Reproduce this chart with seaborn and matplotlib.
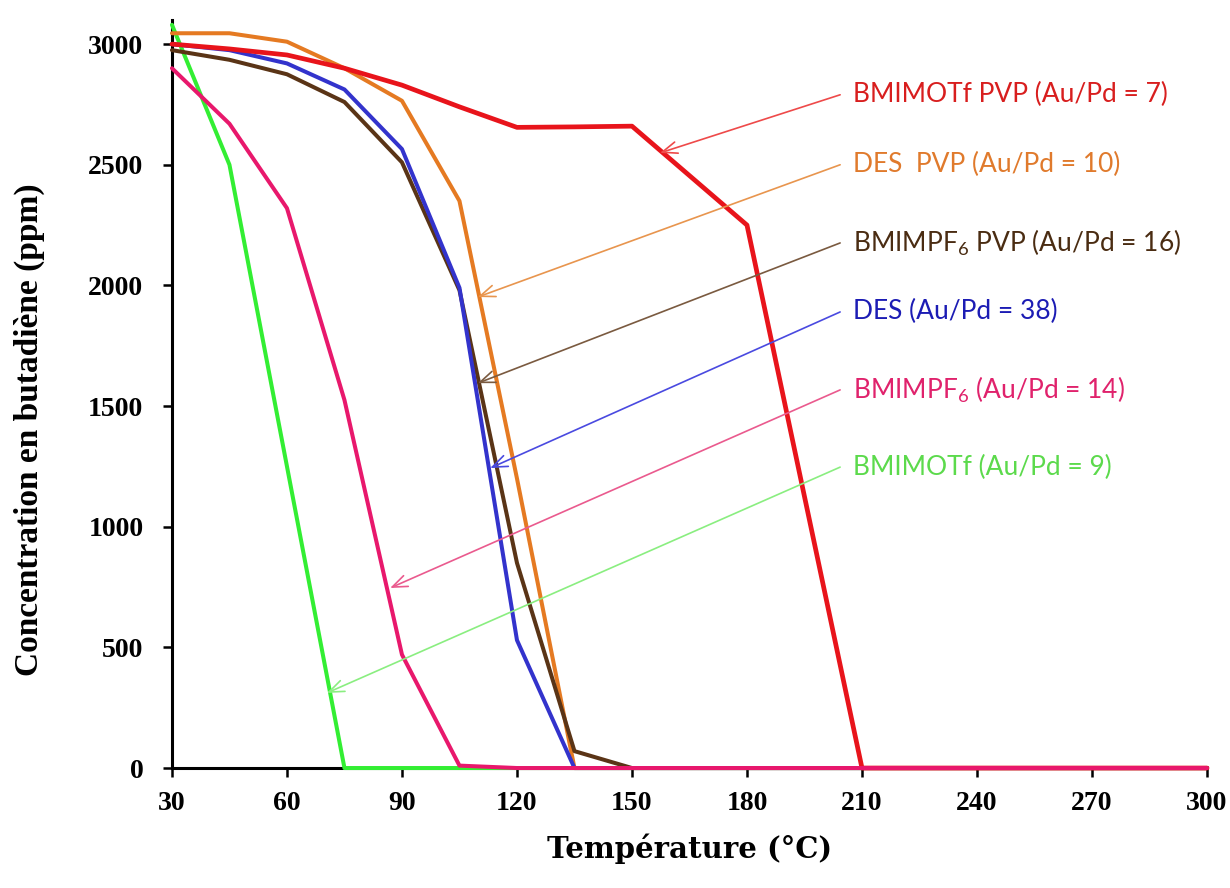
import numpy as np
import pandas as pd
import matplotlib
matplotlib.use("Agg")
import matplotlib.pyplot as plt
import seaborn as sns

# Temperature points (°C)
temperature = [30, 45, 60, 75, 90, 105, 120, 135, 150, 180, 210, 240, 270, 300]

# Butadiene concentration (ppm) for each catalyst
bmimotf_pvp = [3000, 2980, 2955, 2900, 2830, 2740, 2655, 2657, 2660, 2250, 0, 0, 0, 0]
des_pvp = [3045, 3045, 3010, 2900, 2765, 2350, 1200, 0, 0, 0, 0, 0, 0, 0]
bmimpf6_pvp = [2975, 2935, 2875, 2760, 2510, 1980, 850, 70, 0, 0, 0, 0, 0, 0]
des = [3000, 2975, 2920, 2812, 2565, 1990, 530, 0, 0, 0, 0, 0, 0, 0]
bmimpf6 = [2900, 2670, 2320, 1525, 470, 10, 0, 0, 0, 0, 0, 0, 0, 0]
bmimotf = [3080, 2500, 1250, 0, 0, 0, 0, 0, 0, 0, 0, 0, 0, 0]

labels = [
    "BMIMOTf PVP (Au/Pd = 7)",
    "DES  PVP (Au/Pd = 10)",
    r"BMIMPF$_{\mathrm{6}}$ PVP (Au/Pd = 16)",
    "DES (Au/Pd = 38)",
    r"BMIMPF$_{\mathrm{6}}$ (Au/Pd = 14)",
    "BMIMOTf (Au/Pd = 9)",
]
series = [bmimotf_pvp, des_pvp, bmimpf6_pvp, des, bmimpf6, bmimotf]
line_colors = ["#E8141B", "#E57A22", "#5A3416", "#3333CC", "#E8186C", "#33EE33"]
text_colors = ["#D81E1E", "#E07A2C", "#4A2C12", "#1C1CB4", "#E0226C", "#5CDA4C"]
arrow_colors = ["#EE4A4A", "#E8954E", "#7A5A40", "#4A4AE0", "#EA5A8E", "#8AEE80"]

# arrow targets on each curve (temperature, ppm) and label anchors
arrow_tip_x = [157.3, 109.8, 109.8, 113.0, 86.9, 70.4]
arrow_tip_y = [2549, 1952, 1595, 1243, 746, 311]
label_y = [2790, 2500, 2176, 1890, 1567, 1247]

sns.set_theme(style="white")
plt.rcParams["mathtext.fontset"] = "custom"
plt.rcParams["mathtext.rm"] = "Lato"

fig = plt.figure(figsize=(12.3, 8.88), dpi=100)
ax = fig.add_axes([0.1398, 0.1351, 0.9813 - 0.1398, 0.9775 - 0.1351])

# green at the bottom, pink last so it sits on the zero line
draw_order = [5, 1, 2, 3, 0, 4]
for z, i in enumerate(draw_order):
    df = pd.DataFrame({"T": temperature, "ppm": series[i]})
    sns.lineplot(data=df, x="T", y="ppm", ax=ax, color=line_colors[i],
                 linewidth=3.4 if i == 0 else 2.9, clip_on=False, zorder=3 + z)

for i in range(len(labels)):
    ax.annotate("", xy=(arrow_tip_x[i], arrow_tip_y[i]), xytext=(204.3, label_y[i]),
                arrowprops=dict(arrowstyle="->,head_length=0.9,head_width=0.35",
                                color=arrow_colors[i], lw=1.2, shrinkA=0, shrinkB=0),
                zorder=10)
    ax.text(207.7, label_y[i], labels[i], color=text_colors[i], fontsize=19,
            family="Lato", ha="left", va="center", zorder=11)

ax.set_xlim(30, 300)
ax.set_ylim(0, 3100)
ax.set_xticks(range(30, 301, 30))
ax.set_yticks(range(0, 3001, 500))

for side in ["top", "right"]:
    ax.spines[side].set_visible(False)
for side in ["left", "bottom"]:
    ax.spines[side].set_color("black")
    ax.spines[side].set_linewidth(2.2)

ax.tick_params(axis="both", direction="out", length=6.5, width=1.8, color="black",
               left=True, bottom=True)
ax.tick_params(axis="y", pad=14)
ax.tick_params(axis="x", pad=10)
for lab in ax.get_xticklabels() + ax.get_yticklabels():
    lab.set_family("Liberation Serif")
    lab.set_fontweight("bold")
    lab.set_fontsize(20)
    lab.set_color("black")

ax.set_xlabel("Température (°C)", family="DejaVu Serif", fontweight="bold",
              fontsize=21, color="black")
ax.xaxis.set_label_coords(0.5, -0.087)
ax.set_ylabel("Concentration en butadiène (ppm)", family="Liberation Serif",
              fontweight="bold", fontsize=24, color="black", va="center")
ax.yaxis.set_label_coords(-0.138, 0.452)

fig.savefig("out.png", dpi=100, facecolor="white")
